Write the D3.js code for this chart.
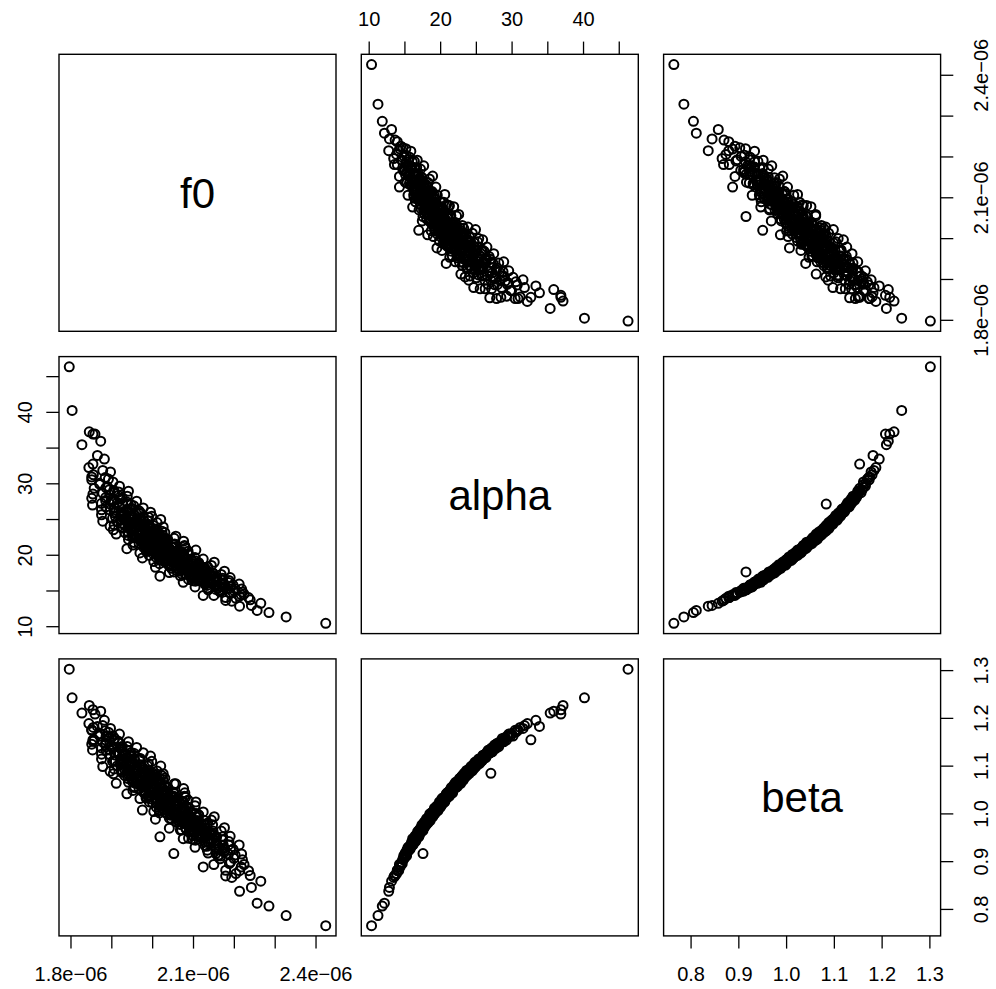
<!DOCTYPE html>
<html>
<head>
<meta charset="utf-8">
<script src="https://cdn.jsdelivr.net/npm/d3@7"></script>
<style>
body{margin:0;background:#fff;}
text{font-family:"Liberation Sans",Arial,Helvetica,sans-serif;}
</style>
</head>
<body>
<div id="vis"></div>
<script>
// variable names on the diagonal
const names = ["f0", "alpha", "beta"];

// f0 is kept in units of 1e-06
const f0Vals = [
  2.180,2.214,2.151,2.225,2.189,2.168,
  2.200,2.137,2.219,2.161,2.178,2.105,2.192,2.134,2.156,2.213,
  2.130,2.187,2.076,2.159,2.106,2.188,2.135,2.089,2.157,2.119,2.191,2.100,2.158,
  2.130,2.069,2.147,2.100,2.169,2.082,2.110,2.148,2.042,2.125,2.098,2.177,2.060,2.114,2.077,
  2.085,2.129,2.047,2.109,2.008,2.136,2.083,2.057,2.145,2.044,2.087,2.114,2.018,2.096,2.053,2.152,
  2.085,2.004,2.108,2.040,2.064,2.018,2.125,2.084,2.042,1.976,2.105,2.017,2.061,2.045,1.993,2.076,
  2.010,2.089,2.033,2.061,1.970,2.044,2.072,1.986,2.030,2.008,2.107,1.991,2.044,1.938,2.082,2.011,
  2.035,1.979,2.053,2.001,2.079,1.953,2.012,2.055,1.984,2.028,1.956,2.035,1.999,2.077,1.971,
  1.980,2.038,1.942,2.006,2.054,1.957,2.016,1.980,2.058,1.941,1.985,2.019,1.912,1.996,
  2.010,1.933,1.976,2.024,1.953,1.987,1.905,2.008,1.956,1.984,1.928,2.027,
  1.945,2.003,1.907,1.975,1.924,2.012,1.951,1.879,1.978,1.937,2.021,
  1.970,1.903,1.991,1.924,1.947,1.876,1.969,1.907,1.996,
  1.910,1.968,1.876,1.940,1.978,1.887,1.920,1.854,
  1.948,1.876,1.915,1.962,1.886,1.923,1.852,
  1.886,1.939,1.855,1.908,1.942,
  1.895,1.858,1.920,1.872,
  1.904,1.852,1.885,
  1.856,1.898,
  2.328,2.286,2.257,2.243,2.214,2.266,2.236,2.221,
  2.195,2.240,2.205,2.180,
  2.053,2.019,1.940,2.080,2.088,2.125,1.999,2.031,1.897,
  1.804,1.846,1.855,1.874,1.828,1.860,1.883,1.866,1.852,1.855,1.879,1.845,1.893,
  2.425,1.797,
  // second read of the dense core
  2.164,2.203,2.135,2.177,2.156,2.198,2.130,2.172,
  2.174,2.136,2.143,2.100,2.172,2.116,2.141,2.100,2.173,2.132,2.109,2.141,
  2.095,2.133,2.111,2.145,2.072,2.115,2.149,2.091,2.129,2.068,2.102,2.134,2.078,2.106,
  2.114,2.063,2.091,2.128,2.072,2.110,2.042,2.091,2.058,2.111,2.070,2.087,2.035,2.114,2.056,
  2.030,2.073,2.096,2.055,2.078,2.031,2.095,2.038,2.056,2.010,2.073,2.047,2.074,2.023,2.056,
  2.055,2.018,2.077,2.001,2.039,2.058,2.022,2.065,1.999,2.028,2.046,1.985,2.034,2.007,2.050,
  2.010,2.048,1.982,2.030,1.994,2.052,2.010,1.968,2.032,1.991,2.014,2.038,1.977,2.005,
  2.019,1.973,2.030,1.989,1.952,2.000,2.018,1.967,2.026,1.954,1.983,2.007,1.965,
  1.969,2.002,1.940,2.012,1.975,1.949,1.997,1.925,1.979,1.957,1.995,
  1.979,1.933,1.991,1.943,1.962,1.915,1.989,1.932,1.945,
  1.929,1.972,1.910,1.943,1.955,1.923,1.971,
  1.939,1.897,1.950,1.908,1.955,
  1.897,1.938,1.900,1.927,
  1.917,1.879,1.906,1.887,
  // third read, middle of the cloud
  2.164,2.176,2.138,2.158,2.114,2.139,2.156,2.120,2.152,2.097,
  2.125,2.083,2.131,2.108,2.095,2.116,2.072,2.121,2.096,2.070,
  2.115,2.079,2.094,2.046,2.073,2.090,2.052,2.072,2.036,2.082,
  2.046,2.057,2.079,2.026,2.057,2.023,2.056,2.009,2.037,2.060,
  2.023,2.041,1.994,2.022,2.038,1.996,2.024,1.982,2.036,2.000,
  2.013,1.981,2.024,1.997,2.008,1.976,2.019,1.983,1.992,1.959,
  2.001,1.969,2.012,1.973,1.996,1.949,1.981,1.958,1.991,1.942,
  1.963,1.941,1.979,1.947,1.964,1.922,1.953,1.925,1.957,1.930,
  1.930,1.946,1.907,1.928,1.903,1.923,1.896,1.918,1.891,1.871,
  2.156,2.187,2.192,2.166,2.218
];
const alphaVals = [
  14.0,14.2,14.3,14.5,14.7,14.9,
  15.0,15.1,15.2,15.3,15.4,15.5,15.6,15.7,15.8,15.9,
  16.0,16.1,16.15,16.2,16.3,16.4,16.5,16.55,16.6,16.7,16.8,16.85,16.9,
  17.0,17.05,17.1,17.2,17.25,17.3,17.4,17.45,17.5,17.6,17.65,17.7,17.8,17.85,17.9,
  18.0,18.05,18.1,18.2,18.25,18.3,18.4,18.45,18.5,18.55,18.6,18.7,18.75,18.8,18.9,18.95,
  19.0,19.05,19.1,19.2,19.25,19.3,19.4,19.45,19.5,19.55,19.6,19.7,19.75,19.8,19.9,19.95,
  20.0,20.05,20.1,20.2,20.25,20.3,20.4,20.45,20.5,20.6,20.65,20.7,20.8,20.85,20.9,20.95,
  21.0,21.05,21.1,21.2,21.3,21.35,21.4,21.5,21.55,21.6,21.7,21.75,21.8,21.9,21.95,
  22.0,22.1,22.15,22.2,22.3,22.4,22.45,22.5,22.6,22.7,22.75,22.8,22.9,22.95,
  23.0,23.1,23.2,23.3,23.35,23.4,23.5,23.6,23.7,23.8,23.85,23.9,
  24.0,24.1,24.2,24.3,24.4,24.5,24.6,24.7,24.8,24.85,24.95,
  25.0,25.1,25.25,25.4,25.5,25.6,25.75,25.85,25.95,
  26.0,26.15,26.3,26.4,26.55,26.7,26.8,26.95,
  27.0,27.2,27.3,27.5,27.6,27.8,27.9,
  28.0,28.2,28.5,28.7,28.9,
  29.1,29.3,29.6,29.85,
  30.2,30.5,30.8,
  31.2,31.6,
  11.3,11.9,12.2,12.9,12.8,13.2,14.0,14.8,
  13.5,13.7,13.9,13.6,
  17.6,17.0,27.1,21.2,20.5,14.3,25.4,23.1,24.0,
  40.2,37.2,36.9,35.9,35.4,36.9,33.4,33.9,30.9,32.7,31.8,32.2,30.6,
  10.4,46.3,
  15.05,15.25,15.35,15.45,15.65,15.75,15.85,15.95,
  16.05,16.12,16.25,16.35,16.42,16.48,16.62,16.68,16.72,16.78,16.88,16.98,
  17.02,17.08,17.15,17.22,17.32,17.38,17.42,17.55,17.62,17.68,17.72,17.82,17.88,17.95,
  18.02,18.08,18.15,18.22,18.28,18.35,18.42,18.48,18.58,18.62,18.68,18.78,18.82,18.88,18.98,
  19.02,19.08,19.15,19.22,19.28,19.35,19.42,19.48,19.58,19.62,19.68,19.72,19.85,19.88,19.98,
  20.02,20.08,20.15,20.22,20.28,20.35,20.42,20.48,20.55,20.62,20.68,20.75,20.82,20.88,20.98,
  21.02,21.08,21.15,21.25,21.32,21.42,21.48,21.58,21.65,21.72,21.78,21.85,21.92,21.98,
  22.05,22.12,22.25,22.32,22.38,22.52,22.58,22.65,22.72,22.78,22.85,22.92,22.98,
  23.05,23.15,23.25,23.42,23.48,23.55,23.65,23.75,23.82,23.92,23.98,
  24.05,24.15,24.25,24.45,24.55,24.65,24.75,24.9,24.98,
  25.05,25.2,25.35,25.45,25.65,25.8,25.9,
  26.1,26.25,26.45,26.6,26.85,
  27.1,27.4,27.7,27.95,
  28.3,28.6,29.0,29.4,
  15.55,15.8,16.08,16.22,16.38,16.52,16.65,16.82,16.92,17.12,
  17.18,17.28,17.35,17.48,17.58,17.75,17.92,17.98,18.12,18.18,
  18.32,18.38,18.52,18.65,18.72,18.85,18.92,19.12,19.18,19.32,
  19.38,19.52,19.65,19.78,19.92,20.12,20.18,20.32,20.38,20.52,
  20.58,20.72,20.78,20.92,21.12,21.18,21.28,21.38,21.45,21.52,
  21.62,21.68,21.82,21.88,22.08,22.18,22.28,22.35,22.42,22.55,
  22.68,22.82,22.88,23.08,23.18,23.28,23.45,23.58,23.72,23.88,
  24.12,24.28,24.38,24.52,24.68,24.82,25.15,25.3,25.55,25.7,
  26.05,26.35,26.65,27.05,27.45,27.85,28.4,28.8,29.5,30.0,
  15.15,15.28,14.6,14.8,14.4
];
const betaVals = [
  0.881,0.880,0.893,0.893,0.895,0.911,
  0.906,0.917,0.915,0.911,0.923,0.929,0.923,0.931,0.925,0.934,
  0.940,0.934,0.947,0.934,0.944,0.941,0.953,0.948,0.942,0.954,0.952,0.962,0.951,
  0.955,0.965,0.954,0.964,0.963,0.970,0.963,0.976,0.969,0.964,0.976,0.970,0.982,0.972,0.980,
  0.984,0.976,0.989,0.982,0.988,0.980,0.988,0.994,0.986,0.999,0.985,0.996,1.001,0.993,1.002,0.993,
  0.995,1.004,1.000,1.011,0.999,1.007,1.003,1.014,1.009,1.007,1.016,1.006,1.018,1.013,1.024,1.013,
  1.021,1.013,1.025,1.020,1.031,1.020,1.026,1.033,1.023,1.032,1.024,1.035,1.030,1.041,1.034,1.041,
  1.033,1.044,1.036,1.043,1.036,1.048,1.044,1.041,1.054,1.046,1.054,1.043,1.054,1.052,1.060,
  1.060,1.054,1.065,1.054,1.062,1.056,1.067,1.064,1.062,1.073,1.066,1.072,1.063,1.076,
  1.069,1.079,1.069,1.079,1.084,1.074,1.083,1.080,1.090,1.080,1.087,1.083,
  1.092,1.084,1.093,1.098,1.091,1.089,1.101,1.098,1.095,1.107,1.099,
  1.098,1.109,1.104,1.114,1.104,1.114,1.113,1.110,1.120,
  1.122,1.115,1.124,1.117,1.127,1.132,1.125,1.133,
  1.127,1.137,1.129,1.138,1.143,1.136,1.145,
  1.147,1.140,1.151,1.157,1.150,
  1.159,1.154,1.166,1.162,
  1.162,1.174,1.173,
  1.180,1.178,
  0.786,0.806,0.812,0.845,0.837,0.858,0.880,0.903,
  0.866,0.870,0.874,0.869,
  0.916,0.951,1.084,1.043,1.028,0.888,1.109,1.074,1.088,
  1.242,1.226,1.217,1.214,1.210,1.208,1.195,1.182,1.175,1.154,1.184,1.188,1.170,
  0.765,1.302,
  0.913,0.913,0.923,0.919,0.929,0.925,0.932,0.933,
  0.934,0.941,0.937,0.945,0.945,0.950,0.947,0.953,0.951,0.956,0.953,0.959,
  0.961,0.958,0.965,0.960,0.966,0.969,0.963,0.972,0.970,0.977,0.971,0.976,0.979,0.977,
  0.978,0.985,0.980,0.985,0.990,0.985,0.990,0.986,0.995,0.992,0.991,0.998,1.000,0.997,1.001,
  1.003,0.998,1.003,1.008,1.003,1.008,1.004,1.012,1.009,1.013,1.009,1.017,1.013,1.017,1.015,
  1.020,1.017,1.024,1.022,1.019,1.027,1.030,1.025,1.030,1.027,1.034,1.032,1.032,1.039,1.036,
  1.040,1.036,1.042,1.037,1.046,1.045,1.043,1.051,1.048,1.052,1.047,1.053,1.056,1.053,
  1.054,1.060,1.059,1.058,1.066,1.063,1.067,1.062,1.071,1.069,1.068,1.074,1.071,
  1.076,1.071,1.078,1.077,1.084,1.081,1.078,1.086,1.084,1.090,1.085,
  1.086,1.092,1.090,1.098,1.092,1.100,1.099,1.099,1.105,
  1.106,1.102,1.109,1.107,1.115,1.110,1.115,
  1.116,1.123,1.120,1.127,1.126,
  1.133,1.133,1.140,1.140,
  1.148,1.149,1.153,1.161,
  0.926,0.927,0.939,0.938,0.946,0.945,0.951,0.957,0.953,0.963,
  0.960,0.967,0.964,0.971,0.968,0.975,0.981,0.977,0.984,0.986,
  0.984,0.989,0.988,0.996,0.993,0.995,1.000,1.004,1.001,1.004,
  1.009,1.007,1.010,1.016,1.014,1.022,1.019,1.026,1.023,1.026,
  1.031,1.030,1.035,1.033,1.041,1.038,1.044,1.042,1.047,1.044,
  1.050,1.047,1.054,1.051,1.058,1.056,1.062,1.059,1.065,1.063,
  1.069,1.067,1.072,1.075,1.073,1.078,1.077,1.083,1.082,1.088,
  1.088,1.094,1.092,1.097,1.096,1.102,1.106,1.105,1.113,1.111,
  1.120,1.120,1.128,1.129,1.138,1.139,1.150,1.151,1.162,1.167,
  0.916,0.915,0.898,0.905,0.888
];

// ticks (R drops labels that would overlap)
const f0Ticks = [1.8, 1.9, 2.0, 2.1, 2.2, 2.3, 2.4];
const f0Labels = ["1.8e\u221206", "", "", "2.1e\u221206", "", "", "2.4e\u221206"];
const alphaTicks = [10, 15, 20, 25, 30, 35, 40, 45];
const alphaLabels = ["10", "", "20", "", "30", "", "40", ""];
const betaTicks = [0.8, 0.9, 1.0, 1.1, 1.2, 1.3];
const betaLabels = ["0.8", "0.9", "1.0", "1.1", "1.2", "1.3"];

let width = 996, height = 989;
let size = 277, step = 302.3, left0 = 59, top0 = 54.3;
let tickLen = 12.7, fs = 20;

const vars = [
  {vals: f0Vals, ticks: f0Ticks, labels: f0Labels},
  {vals: alphaVals, ticks: alphaTicks, labels: alphaLabels},
  {vals: betaVals, ticks: betaTicks, labels: betaLabels}
];
vars.forEach(function(v){
  let ext = d3.extent(v.vals), r = ext[1] - ext[0];
  v.dom = [ext[0] - 0.04*r, ext[1] + 0.04*r];
  v.x = d3.scaleLinear().domain(v.dom).range([0, size]);
  v.y = d3.scaleLinear().domain(v.dom).range([size, 0]);
});

let svg = d3.select("#vis").append("svg")
    .attr("width", width)
    .attr("height", height);

function drawAxis(g, axis, v){
  axis.tickValues(v.ticks)
      .tickFormat(function(d, k){ return v.labels[k]; })
      .tickSize(tickLen)
      .tickSizeOuter(0);
  g.call(axis);
  g.select(".domain").remove();
  g.selectAll(".tick line").attr("stroke", "black").attr("stroke-width", 1.3);
  g.selectAll(".tick text").attr("fill", "black").attr("font-size", fs);
  return g;
}

for(let i = 0; i < 3; i++){
  for(let j = 0; j < 3; j++){
    let g = svg.append("g")
        .attr("transform", "translate(" + (left0 + j*step) + "," + (top0 + i*step) + ")");

    if(i == j){
      g.append("text")
        .attr("x", size/2)
        .attr("y", size/2 + 0.358*42)
        .attr("text-anchor", "middle")
        .attr("font-size", 42)
        .text(names[i]);
    }else{
      let vx = vars[j], vy = vars[i];
      g.selectAll("circle")
        .data(d3.range(vx.vals.length))
        .enter().append("circle")
        .attr("cx", function(k){ return vx.x(vx.vals[k]); })
        .attr("cy", function(k){ return vy.y(vy.vals[k]); })
        .attr("r", 4.5)
        .attr("fill", "none")
        .attr("stroke", "black")
        .attr("stroke-width", 2);
    }

    g.append("rect")
      .attr("x", 0).attr("y", 0)
      .attr("width", size).attr("height", size)
      .attr("fill", "none")
      .attr("stroke", "black")
      .attr("stroke-width", 1.4);

    // axes alternate round the outside, like pairs() in R
    if(i == 0 && j % 2 == 1){
      drawAxis(g.append("g"), d3.axisTop(vars[j].x).tickPadding(15.6), vars[j]);
    }
    if(i == 2 && j % 2 == 0){
      drawAxis(g.append("g").attr("transform", "translate(0," + size + ")"),
        d3.axisBottom(vars[j].x).tickPadding(18.3), vars[j]);
    }
    if(j == 0 && i % 2 == 1){
      drawAxis(g.append("g"), d3.axisLeft(vars[i].y), vars[i])
        .selectAll(".tick text")
          .attr("x", 0).attr("dy", 0)
          .attr("text-anchor", "middle")
          .attr("transform", "translate(-27,0)rotate(-90)");
    }
    if(j == 2 && i % 2 == 0){
      drawAxis(g.append("g").attr("transform", "translate(" + size + ",0)"),
        d3.axisRight(vars[i].y), vars[i])
        .selectAll(".tick text")
          .attr("x", 0).attr("dy", 0)
          .attr("text-anchor", "middle")
          .attr("transform", "translate(47,0)rotate(-90)");
    }
  }
}
</script>
</body>
</html>
